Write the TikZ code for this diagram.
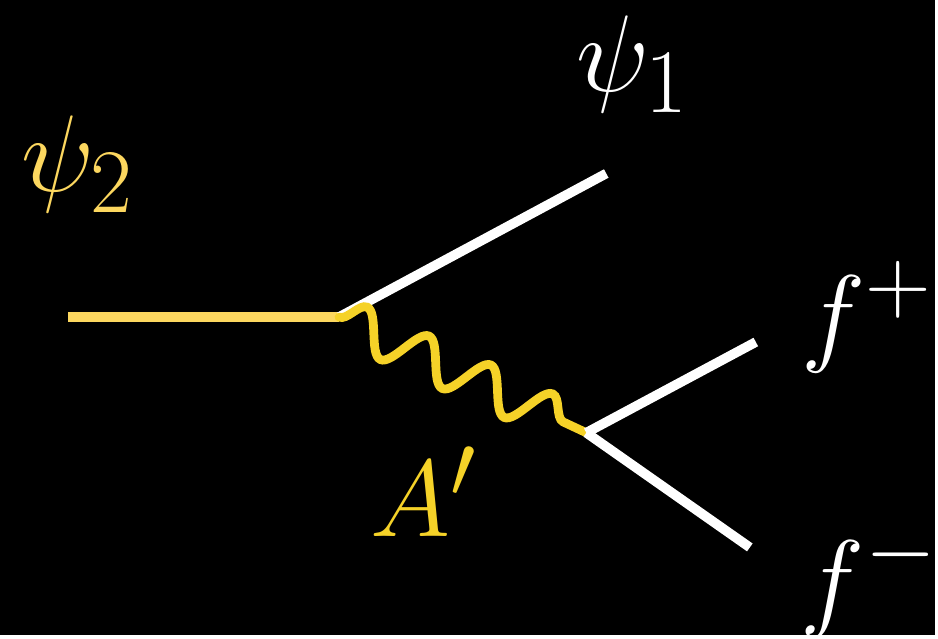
\documentclass[tikz,border=0pt]{standalone}
\usepackage{graphicx}
\usetikzlibrary{decorations.pathmorphing}
\definecolor{psiyellow}{RGB}{252,215,95}
\definecolor{photonyellow}{RGB}{245,210,40}
\newcommand{\biglabel}[1]{\scalebox{2.5}{\Huge$#1$}}
\tikzset{
  fermion/.style={line width=5.5pt, white},
  photon/.style={line width=5pt, photonyellow, line cap=round,
    decorate, decoration={snake, segment length=1.37cm, amplitude=0.42cm}},
  lbl/.style={inner sep=0pt}
}

\begin{document}
\begin{tikzpicture}[x=0.02cm, y=-0.02cm]
  \fill[black] (0,0) rectangle (938,637);
  % Eckpunkte und freie Enden
  \coordinate (in) at (68,318);
  \coordinate (v1) at (340,318);
  \coordinate (v2) at (588,434);
  \coordinate (out1) at (608,174);
  \coordinate (fp) at (758,343);
  \coordinate (fm) at (752,549);
  % Linien
  \draw[fermion, psiyellow] (in) -- (v1);
  \draw[fermion] (v1) -- (out1);
  \draw[photon] (v1) -- (v2);
  \draw[fermion] (v2) -- (fp);
  \draw[fermion] (v2) -- (fm);
  % Beschriftungen
  \node[lbl, psiyellow] (psi2) at (78,165) {\biglabel{\psi_2}};
  \node[lbl, white] (psi1) at (635,64) {\biglabel{\psi_1}};
  \node[lbl, white] (fplus) at (870,318) {\biglabel{f^+}};
  \node[lbl, white] (fminus) at (872,583) {\biglabel{f^-}};
  \node[lbl, photonyellow] (aprime) at (425,493) {\biglabel{A'}};
\end{tikzpicture}
\end{document}
